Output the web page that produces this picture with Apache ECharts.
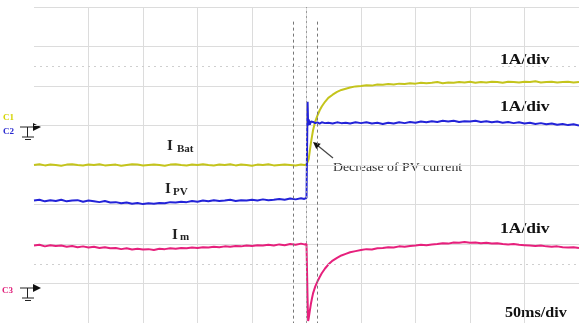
<!DOCTYPE html>
<html>
<head>
<meta charset="utf-8">
<script src="https://cdn.jsdelivr.net/npm/echarts@6/dist/echarts.min.js"></script>
<style>
  html, body { margin: 0; padding: 0; background: #fff; }
  #scope { width: 579px; height: 323px; }
</style>
</head>
<body>
<div id="scope"></div>
<script>
// time base, ms (50 ms/div, 10 div)
const timeMs = [
  0,5,10,15,20,25,30,35,40,45, 50,55,60,65,70,75,80,85,90,95,
  100,105,110,115,120,125,130,135,140,145, 150,155,160,165,170,175,180,185,190,195,
  200,205,210,215,220,225,230,235,240,245,
  248,250,251,251.5,252,253,254,255,256,258,260,262,264,267,270,274,278,282,286,290,295,
  300,305,310,315,320,325,330,335,340,345, 350,355,360,365,370,375,380,385,390,395,
  400,405,410,415,420,425,430,435,440,445, 450,455,460,465,470,475,480,485,490,495, 500
];

// traces, in screen divisions (0 = bottom of graticule, 8 = top)
const iBat = [
  4.00,4.02,3.99,4.01,4.00,3.98,4.01,4.02,4.00,3.99, 4.01,4.00,4.02,3.99,4.00,4.01,3.98,4.00,4.02,4.01,
  3.99,4.00,4.01,4.00,3.98,4.01,4.02,4.00,3.99,4.01, 4.00,4.02,4.00,3.99,4.01,4.00,4.02,3.99,4.01,4.00,
  3.98,4.01,4.00,4.02,3.99,4.00,4.01,4.00,3.99,4.01,
  4.00,4.01,4.00,4.05,4.15,4.35,4.55,4.72,4.88,5.10,5.25,5.38,5.48,5.60,5.70,5.78,5.85,5.90,5.93,5.96,5.99,
  6.00,6.02,6.01,6.04,6.03,6.05,6.04,6.06,6.05,6.07, 6.06,6.08,6.07,6.08,6.10,6.07,6.09,6.08,6.10,6.09,
  6.11,6.08,6.10,6.09,6.11,6.10,6.08,6.11,6.10,6.09, 6.11,6.10,6.12,6.09,6.10,6.11,6.09,6.10,6.11,6.09, 6.10
];
const iPv = [
  3.10,3.12,3.08,3.11,3.09,3.12,3.08,3.10,3.11,3.07, 3.10,3.08,3.06,3.09,3.05,3.06,3.03,3.05,3.02,3.04,
  3.01,3.03,3.02,3.04,3.03,3.06,3.05,3.07,3.06,3.09, 3.07,3.10,3.08,3.11,3.09,3.10,3.12,3.09,3.11,3.10,
  3.12,3.10,3.13,3.11,3.12,3.14,3.12,3.15,3.13,3.16,
  3.14,3.17,5.60,5.00,5.15,5.02,5.10,5.05,5.09,5.06,5.08,5.05,5.08,5.06,5.07,5.05,5.08,5.06,5.07,5.05,5.08,
  5.06,5.08,5.05,5.07,5.04,5.07,5.05,5.08,5.06,5.09, 5.07,5.10,5.08,5.11,5.09,5.12,5.10,5.12,5.09,5.11,
  5.10,5.12,5.09,5.11,5.08,5.10,5.07,5.09,5.06,5.08, 5.05,5.07,5.04,5.06,5.03,5.05,5.02,5.04,5.01,5.03, 5.00
];
const iM = [
  1.96,1.98,1.94,1.97,1.95,1.96,1.93,1.95,1.92,1.94, 1.91,1.93,1.90,1.92,1.89,1.90,1.87,1.89,1.86,1.88,
  1.86,1.87,1.85,1.88,1.87,1.89,1.88,1.90,1.89,1.91, 1.90,1.92,1.91,1.93,1.92,1.94,1.93,1.95,1.94,1.96,
  1.95,1.97,1.96,1.98,1.96,1.99,1.97,2.00,1.98,2.01,
  1.99,2.00,0.60,0.05,0.12,0.30,0.48,0.62,0.75,0.92,1.05,1.16,1.26,1.38,1.48,1.58,1.65,1.71,1.75,1.79,1.82,
  1.85,1.87,1.86,1.89,1.90,1.92,1.91,1.94,1.93,1.95, 1.96,1.98,1.97,1.99,2.00,2.02,2.01,2.04,2.03,2.05,
  2.03,2.04,2.02,2.03,2.01,2.02,2.00,1.99,2.00,1.98, 1.97,1.96,1.95,1.96,1.94,1.93,1.94,1.92,1.91,1.92, 1.90
];

const centerMs = 250;
const cursorMs = [238, 260];
const cursorTop = 7.63;
const dottedLevels = [6.5, 1.5];

const chart = echarts.init(document.getElementById('scope'));

const pairs = arr => timeMs.map((t, i) => [t, arr[i]]);
const trace = (name, color, arr) => ({
  name: name, type: 'line', data: pairs(arr), showSymbol: false, silent: true,
  lineStyle: { color: color, width: 2 }, z: 3
});

const serif = 'Liberation Serif, Times New Roman, serif';
function txt(text, x, y, font, fill, sx) {
  return { type: 'text', x: x, y: y, scaleX: sx || 1,
    style: { text: text, font: font, fill: fill, verticalAlign: 'middle', align: 'left' } };
}
function ground(y) {
  const s = { stroke: '#222', lineWidth: 1 };
  return [
    { type: 'line', shape: { x1: 20, y1: y, x2: 33, y2: y }, style: s },
    { type: 'line', shape: { x1: 27.5, y1: y, x2: 27.5, y2: y + 10 }, style: s },
    { type: 'line', shape: { x1: 22, y1: y + 10, x2: 34, y2: y + 10 }, style: s },
    { type: 'line', shape: { x1: 25, y1: y + 12.5, x2: 31, y2: y + 12.5 }, style: s },
    { type: 'polygon', shape: { points: [[33, y - 4], [41, y], [33, y + 4]] }, style: { fill: '#111' } }
  ];
}

const dotted = { color: '#9a9a9a', type: [2, 3], width: 1 };
const dashed = { color: '#777', type: [3, 3], width: 1 };
const light = { color: '#cfcfcf', type: [2, 4], width: 1 };

chart.setOption({
  backgroundColor: '#fff',
  animation: false,
  grid: { left: 34, right: 0, top: 7, height: 320 },
  xAxis: {
    type: 'value', min: 0, max: 500, interval: 50,
    axisLine: { show: false }, axisTick: { show: false }, axisLabel: { show: false },
    splitLine: { show: true, showMinLine: false, lineStyle: { color: '#dcdcdc' } }
  },
  yAxis: {
    type: 'value', min: 0, max: 8, interval: 1,
    axisLine: { show: false }, axisTick: { show: false }, axisLabel: { show: false },
    splitLine: { show: true, lineStyle: { color: '#dcdcdc' } }
  },
  series: [
    {
      type: 'line', data: [], silent: true, z: 1,
      markLine: {
        silent: true, symbol: 'none', label: { show: false }, animation: false,
        data: [
          { xAxis: centerMs, lineStyle: dotted },
          ...dottedLevels.map(v => ({ yAxis: v, lineStyle: light })),
          ...cursorMs.map(t => [
            { coord: [t, cursorTop], lineStyle: dashed },
            { coord: [t, 0], lineStyle: dashed }
          ])
        ]
      }
    },
    trace('I Bat', '#c4c41c', iBat),
    trace('I PV', '#2323d8', iPv),
    trace('I m', '#e6207c', iM)
  ],
  graphic: [
    txt('C1', 3, 118, 'bold 9px ' + serif, '#d4d400'),
    txt('C2', 3, 132, 'bold 9px ' + serif, '#2a2ad0'),
    txt('C3', 2, 291, 'bold 9px ' + serif, '#e0207a'),
    ...ground(127),
    ...ground(288),
    txt('I', 167, 146, 'bold 15px ' + serif, '#222'),
    txt('Bat', 177, 149, 'bold 11px ' + serif, '#222'),
    txt('I', 165, 189, 'bold 15px ' + serif, '#222'),
    txt('PV', 173, 192, 'bold 11px ' + serif, '#222'),
    txt('I', 172, 235, 'bold 15px ' + serif, '#222'),
    txt('m', 180, 237, 'bold 11px ' + serif, '#222'),
    txt('1A/div', 500, 60, 'bold 14px ' + serif, '#111', 1.25),
    txt('1A/div', 500, 107, 'bold 14px ' + serif, '#111', 1.25),
    txt('1A/div', 500, 229, 'bold 14px ' + serif, '#111', 1.25),
    txt('50ms/div', 505, 313, 'bold 14px ' + serif, '#111', 1.15),
    txt('Decrease of PV current', 333, 168, '12px ' + serif, '#333', 1.15),
    { type: 'line', shape: { x1: 333, y1: 158, x2: 317, y2: 145 }, style: { stroke: '#444', lineWidth: 1.2 } },
    { type: 'polygon', shape: { points: [[313, 142], [320.7, 143.7], [316.3, 149.1]] }, style: { fill: '#111' } }
  ]
});
</script>
</body>
</html>
